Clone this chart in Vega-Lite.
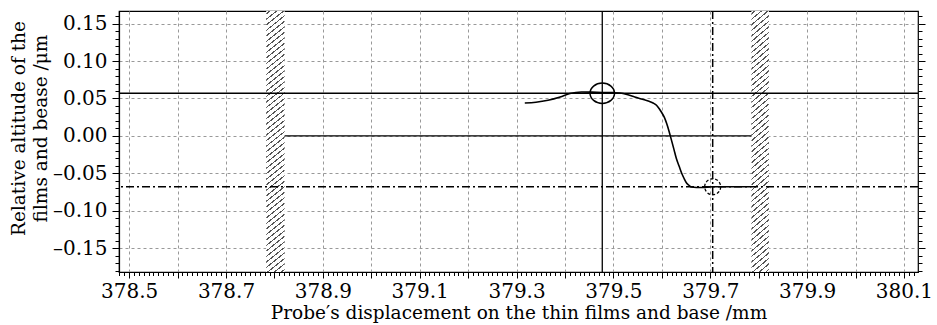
{
  "$schema": "https://vega.github.io/schema/vega-lite/v6.json",
  "width": 799,
  "height": 261,
  "autosize": {"type": "none"},
  "padding": {"left": 119, "top": 11, "right": 19, "bottom": 53},
  "background": "white",
  "config": {
    "view": {"stroke": "black", "strokeWidth": 1.2},
    "font": "DejaVu Serif",
    "axis": {
      "labelFont": "DejaVu Serif",
      "titleFont": "DejaVu Serif",
      "labelColor": "black",
      "titleColor": "black",
      "domainColor": "black",
      "tickColor": "black",
      "titleFontWeight": "normal",
      "labelFontSize": 20,
      "titleFontSize": 18.5
    }
  },
  "datasets": {
    "curve": [
      {"x": 379.317, "y": 0.044},
      {"x": 379.340, "y": 0.045},
      {"x": 379.365, "y": 0.0476},
      {"x": 379.390, "y": 0.052},
      {"x": 379.410, "y": 0.0566},
      {"x": 379.434, "y": 0.0587},
      {"x": 379.455, "y": 0.0585},
      {"x": 379.477, "y": 0.058},
      {"x": 379.500, "y": 0.0578},
      {"x": 379.513, "y": 0.0574},
      {"x": 379.530, "y": 0.055},
      {"x": 379.544, "y": 0.052},
      {"x": 379.560, "y": 0.049},
      {"x": 379.572, "y": 0.0467},
      {"x": 379.582, "y": 0.044},
      {"x": 379.589, "y": 0.041},
      {"x": 379.595, "y": 0.036},
      {"x": 379.599, "y": 0.032},
      {"x": 379.605, "y": 0.025},
      {"x": 379.610, "y": 0.0165},
      {"x": 379.615, "y": 0.006},
      {"x": 379.620, "y": -0.006},
      {"x": 379.625, "y": -0.018},
      {"x": 379.630, "y": -0.0303},
      {"x": 379.636, "y": -0.041},
      {"x": 379.641, "y": -0.050},
      {"x": 379.646, "y": -0.057},
      {"x": 379.651, "y": -0.063},
      {"x": 379.656, "y": -0.066},
      {"x": 379.661, "y": -0.0683},
      {"x": 379.682, "y": -0.069},
      {"x": 379.705, "y": -0.068},
      {"x": 379.785, "y": -0.068}
    ],
    "bands": [{"x0": 378.783, "x1": 378.821}, {"x0": 379.785, "x1": 379.821}],
    "hsolid": [{"y": 0.057}],
    "hdash": [{"y": -0.068}],
    "vsolid": [{"x": 379.477}],
    "vdash": [{"x": 379.705}],
    "zero": [{"x0": 378.821, "x1": 379.785, "y": 0}],
    "ellipse": [{"x": 379.477, "y": 0.057}],
    "dcircle": [{"x": 379.705, "y": -0.068}]
  },
  "layer": [
    {
      "layer": [
        {
          "data": {"name": "bands"},
          "mark": {
            "type": "rect",
            "strokeWidth": 0,
            "fill": {
              "gradient": "linear",
              "x1": 0, "y1": 0, "x2": 0.0595, "y2": 1.0531,
              "stops": [
                {"offset":0.008,"color":"#fff"},{"offset":0.008,"color":"#555"},{"offset":0.013,"color":"#555"},{"offset":0.013,"color":"#fff"},
                {"offset":0.028,"color":"#fff"},{"offset":0.028,"color":"#555"},{"offset":0.033,"color":"#555"},{"offset":0.033,"color":"#fff"},
                {"offset":0.048,"color":"#fff"},{"offset":0.048,"color":"#555"},{"offset":0.053,"color":"#555"},{"offset":0.053,"color":"#fff"},
                {"offset":0.068,"color":"#fff"},{"offset":0.068,"color":"#555"},{"offset":0.073,"color":"#555"},{"offset":0.073,"color":"#fff"},
                {"offset":0.088,"color":"#fff"},{"offset":0.088,"color":"#555"},{"offset":0.093,"color":"#555"},{"offset":0.093,"color":"#fff"},
                {"offset":0.108,"color":"#fff"},{"offset":0.108,"color":"#555"},{"offset":0.113,"color":"#555"},{"offset":0.113,"color":"#fff"},
                {"offset":0.128,"color":"#fff"},{"offset":0.128,"color":"#555"},{"offset":0.133,"color":"#555"},{"offset":0.133,"color":"#fff"},
                {"offset":0.148,"color":"#fff"},{"offset":0.148,"color":"#555"},{"offset":0.153,"color":"#555"},{"offset":0.153,"color":"#fff"},
                {"offset":0.168,"color":"#fff"},{"offset":0.168,"color":"#555"},{"offset":0.173,"color":"#555"},{"offset":0.173,"color":"#fff"},
                {"offset":0.188,"color":"#fff"},{"offset":0.188,"color":"#555"},{"offset":0.193,"color":"#555"},{"offset":0.193,"color":"#fff"},
                {"offset":0.208,"color":"#fff"},{"offset":0.208,"color":"#555"},{"offset":0.213,"color":"#555"},{"offset":0.213,"color":"#fff"},
                {"offset":0.228,"color":"#fff"},{"offset":0.228,"color":"#555"},{"offset":0.233,"color":"#555"},{"offset":0.233,"color":"#fff"},
                {"offset":0.248,"color":"#fff"},{"offset":0.248,"color":"#555"},{"offset":0.253,"color":"#555"},{"offset":0.253,"color":"#fff"},
                {"offset":0.268,"color":"#fff"},{"offset":0.268,"color":"#555"},{"offset":0.273,"color":"#555"},{"offset":0.273,"color":"#fff"},
                {"offset":0.288,"color":"#fff"},{"offset":0.288,"color":"#555"},{"offset":0.293,"color":"#555"},{"offset":0.293,"color":"#fff"},
                {"offset":0.308,"color":"#fff"},{"offset":0.308,"color":"#555"},{"offset":0.313,"color":"#555"},{"offset":0.313,"color":"#fff"},
                {"offset":0.328,"color":"#fff"},{"offset":0.328,"color":"#555"},{"offset":0.333,"color":"#555"},{"offset":0.333,"color":"#fff"},
                {"offset":0.348,"color":"#fff"},{"offset":0.348,"color":"#555"},{"offset":0.353,"color":"#555"},{"offset":0.353,"color":"#fff"},
                {"offset":0.368,"color":"#fff"},{"offset":0.368,"color":"#555"},{"offset":0.373,"color":"#555"},{"offset":0.373,"color":"#fff"},
                {"offset":0.388,"color":"#fff"},{"offset":0.388,"color":"#555"},{"offset":0.393,"color":"#555"},{"offset":0.393,"color":"#fff"},
                {"offset":0.408,"color":"#fff"},{"offset":0.408,"color":"#555"},{"offset":0.413,"color":"#555"},{"offset":0.413,"color":"#fff"},
                {"offset":0.428,"color":"#fff"},{"offset":0.428,"color":"#555"},{"offset":0.433,"color":"#555"},{"offset":0.433,"color":"#fff"},
                {"offset":0.448,"color":"#fff"},{"offset":0.448,"color":"#555"},{"offset":0.453,"color":"#555"},{"offset":0.453,"color":"#fff"},
                {"offset":0.468,"color":"#fff"},{"offset":0.468,"color":"#555"},{"offset":0.473,"color":"#555"},{"offset":0.473,"color":"#fff"},
                {"offset":0.488,"color":"#fff"},{"offset":0.488,"color":"#555"},{"offset":0.493,"color":"#555"},{"offset":0.493,"color":"#fff"},
                {"offset":0.508,"color":"#fff"},{"offset":0.508,"color":"#555"},{"offset":0.513,"color":"#555"},{"offset":0.513,"color":"#fff"},
                {"offset":0.528,"color":"#fff"},{"offset":0.528,"color":"#555"},{"offset":0.533,"color":"#555"},{"offset":0.533,"color":"#fff"},
                {"offset":0.548,"color":"#fff"},{"offset":0.548,"color":"#555"},{"offset":0.553,"color":"#555"},{"offset":0.553,"color":"#fff"},
                {"offset":0.568,"color":"#fff"},{"offset":0.568,"color":"#555"},{"offset":0.573,"color":"#555"},{"offset":0.573,"color":"#fff"},
                {"offset":0.588,"color":"#fff"},{"offset":0.588,"color":"#555"},{"offset":0.593,"color":"#555"},{"offset":0.593,"color":"#fff"},
                {"offset":0.608,"color":"#fff"},{"offset":0.608,"color":"#555"},{"offset":0.613,"color":"#555"},{"offset":0.613,"color":"#fff"},
                {"offset":0.628,"color":"#fff"},{"offset":0.628,"color":"#555"},{"offset":0.633,"color":"#555"},{"offset":0.633,"color":"#fff"},
                {"offset":0.648,"color":"#fff"},{"offset":0.648,"color":"#555"},{"offset":0.653,"color":"#555"},{"offset":0.653,"color":"#fff"},
                {"offset":0.668,"color":"#fff"},{"offset":0.668,"color":"#555"},{"offset":0.673,"color":"#555"},{"offset":0.673,"color":"#fff"},
                {"offset":0.688,"color":"#fff"},{"offset":0.688,"color":"#555"},{"offset":0.693,"color":"#555"},{"offset":0.693,"color":"#fff"},
                {"offset":0.708,"color":"#fff"},{"offset":0.708,"color":"#555"},{"offset":0.713,"color":"#555"},{"offset":0.713,"color":"#fff"},
                {"offset":0.728,"color":"#fff"},{"offset":0.728,"color":"#555"},{"offset":0.733,"color":"#555"},{"offset":0.733,"color":"#fff"},
                {"offset":0.748,"color":"#fff"},{"offset":0.748,"color":"#555"},{"offset":0.753,"color":"#555"},{"offset":0.753,"color":"#fff"},
                {"offset":0.768,"color":"#fff"},{"offset":0.768,"color":"#555"},{"offset":0.773,"color":"#555"},{"offset":0.773,"color":"#fff"},
                {"offset":0.788,"color":"#fff"},{"offset":0.788,"color":"#555"},{"offset":0.793,"color":"#555"},{"offset":0.793,"color":"#fff"},
                {"offset":0.808,"color":"#fff"},{"offset":0.808,"color":"#555"},{"offset":0.813,"color":"#555"},{"offset":0.813,"color":"#fff"},
                {"offset":0.828,"color":"#fff"},{"offset":0.828,"color":"#555"},{"offset":0.833,"color":"#555"},{"offset":0.833,"color":"#fff"},
                {"offset":0.848,"color":"#fff"},{"offset":0.848,"color":"#555"},{"offset":0.853,"color":"#555"},{"offset":0.853,"color":"#fff"},
                {"offset":0.868,"color":"#fff"},{"offset":0.868,"color":"#555"},{"offset":0.873,"color":"#555"},{"offset":0.873,"color":"#fff"},
                {"offset":0.888,"color":"#fff"},{"offset":0.888,"color":"#555"},{"offset":0.893,"color":"#555"},{"offset":0.893,"color":"#fff"},
                {"offset":0.908,"color":"#fff"},{"offset":0.908,"color":"#555"},{"offset":0.913,"color":"#555"},{"offset":0.913,"color":"#fff"},
                {"offset":0.928,"color":"#fff"},{"offset":0.928,"color":"#555"},{"offset":0.933,"color":"#555"},{"offset":0.933,"color":"#fff"},
                {"offset":0.948,"color":"#fff"},{"offset":0.948,"color":"#555"},{"offset":0.953,"color":"#555"},{"offset":0.953,"color":"#fff"},
                {"offset":0.968,"color":"#fff"},{"offset":0.968,"color":"#555"},{"offset":0.973,"color":"#555"},{"offset":0.973,"color":"#fff"},
                {"offset":0.988,"color":"#fff"},{"offset":0.988,"color":"#555"},{"offset":0.993,"color":"#555"},{"offset":0.993,"color":"#fff"}
              ]
            }
          },
          "encoding": {
            "x": {
              "field": "x0", "type": "quantitative",
              "scale": {"domain": [378.479, 380.129], "nice": false, "zero": false},
              "axis": {
                "title": "Probe′s displacement on the thin films and base /mm",
                "labelFont": "DejaVu Serif",
                "labelFontSize": 20,
                "titleFontSize": 18.5,
                "tickCount": 165,
                "labelExpr": "abs(datum.value*10 - round(datum.value*10)) < 0.001 && round(datum.value*10) % 2 == 1 ? format(datum.value, '.1f') : ''",
                "labelOverlap": false,
                "labelFlush": false,
                "labelPadding": 3,
                "titlePadding": 2,
                "domainWidth": 1.2,
                "tickWidth": 1,
                "tickSize": {"condition": {"test": "abs(datum.value*10 - round(datum.value*10)) < 0.001", "value": 6}, "value": 3.5},
                "grid": true,
                "gridColor": "#999",
                "gridDash": [3, 3],
                "gridWidth": 1,
                "gridOpacity": {"condition": {"test": "abs(datum.value*10 - round(datum.value*10)) < 0.001", "value": 1}, "value": 0}
              }
            },
            "x2": {"field": "x1"}
          }
        },
        {
          "data": {"name": "hsolid"},
          "mark": {"type": "rule", "color": "black", "strokeWidth": 1.3},
          "encoding": {
            "y": {
              "field": "y", "type": "quantitative",
              "scale": {"domain": [-0.182, 0.167], "nice": false, "zero": false},
              "axis": {
                "title": ["Relative altitude of the", "films and bease /μm"],
                "labelFont": "DejaVu Serif",
                "labelFontSize": 20,
                "titleFontSize": 18.5,
                "titleLineHeight": 22,
                "titleY": 117,
                "tickCount": 35,
                "labelExpr": "abs(datum.value*20 - round(datum.value*20)) < 0.001 ? (datum.value < -0.0001 ? '–' + format(-datum.value, '.2f') : format(abs(datum.value), '.2f')) : ''",
                "labelOverlap": false,
                "labelFlush": false,
                "labelPadding": 5,
                "titlePadding": 2,
                "domainWidth": 1.2,
                "tickWidth": 1,
                "tickSize": {"condition": {"test": "abs(datum.value*20 - round(datum.value*20)) < 0.001", "value": 7}, "value": 4},
                "grid": true,
                "gridColor": "#999",
                "gridDash": [3, 3],
                "gridWidth": 1,
                "gridOpacity": {"condition": {"test": "abs(datum.value*20 - round(datum.value*20)) < 0.001", "value": 1}, "value": 0}
              }
            }
          }
        },
        {
          "data": {"name": "hdash"},
          "mark": {"type": "rule", "color": "black", "strokeWidth": 1.5, "strokeDash": [8, 3, 2, 3]},
          "encoding": {
            "y": {"field": "y", "type": "quantitative", "scale": {"domain": [-0.182, 0.167], "nice": false, "zero": false}}
          }
        },
        {
          "data": {"name": "zero"},
          "mark": {"type": "rule", "color": "black", "strokeWidth": 1.3},
          "encoding": {
            "x": {"field": "x0", "type": "quantitative", "scale": {"domain": [378.479, 380.129], "nice": false, "zero": false}},
            "x2": {"field": "x1"},
            "y": {"field": "y", "type": "quantitative", "scale": {"domain": [-0.182, 0.167], "nice": false, "zero": false}}
          }
        },
        {
          "data": {"name": "vsolid"},
          "mark": {"type": "rule", "color": "black", "strokeWidth": 1.3},
          "encoding": {
            "x": {"field": "x", "type": "quantitative", "scale": {"domain": [378.479, 380.129], "nice": false, "zero": false}}
          }
        },
        {
          "data": {"name": "vdash"},
          "mark": {"type": "rule", "color": "black", "strokeWidth": 1.5, "strokeDash": [8, 3, 2, 3]},
          "encoding": {
            "x": {"field": "x", "type": "quantitative", "scale": {"domain": [378.479, 380.129], "nice": false, "zero": false}}
          }
        },
        {
          "data": {"name": "curve"},
          "mark": {"type": "line", "color": "black", "strokeWidth": 1.6, "interpolate": "monotone"},
          "encoding": {
            "x": {"field": "x", "type": "quantitative", "scale": {"domain": [378.479, 380.129], "nice": false, "zero": false}},
            "y": {"field": "y", "type": "quantitative", "scale": {"domain": [-0.182, 0.167], "nice": false, "zero": false}}
          }
        },
        {
          "data": {"name": "ellipse"},
          "mark": {"type": "point", "shape": "M-1,0A1,0.83,0,1,1,1,0A1,0.83,0,1,1,-1,0Z", "size": 600, "filled": false, "stroke": "black", "strokeWidth": 1.5, "opacity": 1},
          "encoding": {
            "x": {"field": "x", "type": "quantitative", "scale": {"domain": [378.479, 380.129], "nice": false, "zero": false}},
            "y": {"field": "y", "type": "quantitative", "scale": {"domain": [-0.182, 0.167], "nice": false, "zero": false}}
          }
        },
        {
          "data": {"name": "dcircle"},
          "mark": {"type": "point", "shape": "circle", "size": 256, "filled": false, "stroke": "black", "strokeWidth": 1.3, "strokeDash": [3, 2], "opacity": 1},
          "encoding": {
            "x": {"field": "x", "type": "quantitative", "scale": {"domain": [378.479, 380.129], "nice": false, "zero": false}},
            "y": {"field": "y", "type": "quantitative", "scale": {"domain": [-0.182, 0.167], "nice": false, "zero": false}}
          }
        }
      ]
    },
    {
      "data": {"name": "hsolid"},
      "mark": {"type": "rule", "opacity": 0},
      "encoding": {
        "y": {
          "field": "y", "type": "quantitative",
          "scale": {"domain": [-0.182, 0.167], "nice": false, "zero": false},
          "axis": {
            "orient": "right",
            "title": null,
            "labels": false,
            "grid": false,
            "domain": false,
            "tickCount": 35,
            "tickWidth": 1,
            "tickSize": {"condition": {"test": "abs(datum.value*20 - round(datum.value*20)) < 0.001", "value": 7}, "value": 4}
          }
        }
      }
    }
  ],
  "resolve": {"scale": {"y": "independent"}, "axis": {"y": "independent"}}
}
